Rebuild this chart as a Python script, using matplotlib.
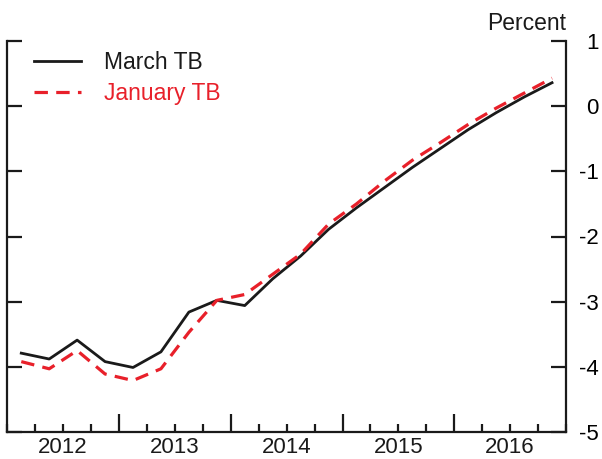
import matplotlib
matplotlib.use("Agg")
import matplotlib.pyplot as plt
import numpy as np

plt.rcParams['font.family'] = ['Liberation Sans', 'DejaVu Sans']

# Quarterly data, 2012Q1 .. 2016Q4
quarters = [2012 + i * 0.25 + 0.125 for i in range(20)]
march_tb = [-3.79, -3.88, -3.59, -3.92, -4.01, -3.77, -3.16, -2.98,
            -3.06, -2.65, -2.30, -1.89, -1.56, -1.25, -0.94, -0.65,
            -0.36, -0.10, 0.14, 0.36]
january_tb = [-3.92, -4.03, -3.75, -4.11, -4.21, -4.03, -3.47, -2.98,
              -2.89, -2.58, -2.27, -1.81, -1.50, -1.15, -0.83, -0.56,
              -0.28, -0.03, 0.20, 0.43]
years = [2012, 2013, 2014, 2015, 2016]
yticks = [1, 0, -1, -2, -3, -4, -5]

fig = plt.figure(figsize=(6.02, 4.59), dpi=100)
ax = fig.add_axes([7.3 / 602, 1 - 432 / 459, (566 - 7.3) / 602, (432 - 41) / 459])

black = '#1a1a1a'
red = '#e8202a'
ax.plot(quarters, march_tb, color=black, lw=2.0, label='March TB')
ax.plot(quarters, january_tb, color=red, lw=2.3, dashes=(4.2, 2.6), label='January TB')

ax.set_xlim(2012, 2017)
ax.set_ylim(-5, 1)

ax.spines['top'].set_visible(False)
for s in ['left', 'right', 'bottom']:
    ax.spines[s].set_linewidth(1.6)
    ax.spines[s].set_color(black)

# x ticks
ax.set_xticks([2013, 2014, 2015, 2016])
ax.set_xticklabels([])
ax.set_xticks([2012 + i * 0.25 for i in range(21)], minor=True)
ax.tick_params(axis='x', which='major', direction='in', length=13, width=1.6, color=black)
ax.tick_params(axis='x', which='minor', direction='in', length=5.5, width=1.6, color=black)
for y in years:
    ax.text(y + 0.5, -0.054, str(y), transform=ax.get_xaxis_transform(),
            ha='center', va='baseline', fontsize=16, color=black)

# y ticks
ax.set_yticks(yticks)
ax.set_yticklabels([str(v) for v in yticks])
ax.tick_params(axis='y', which='major', direction='in', length=10.5, width=1.6, color=black,
               left=True, right=True, labelleft=False, labelright=True,
               labelsize=16, pad=23.5)
for lab in ax.get_yticklabels():
    lab.set_horizontalalignment('right')

ax.text(1.0, 1.028, 'Percent', transform=ax.transAxes, ha='right', va='baseline',
        fontsize=16.5, color=black)

leg = ax.legend(loc='upper left', bbox_to_anchor=(0.048, 0.975), frameon=False,
                fontsize=16.5, handlelength=2.05, handletextpad=1.0,
                borderpad=0, borderaxespad=0, labelspacing=0.36)
leg.get_texts()[1].set_color(red)
leg.get_texts()[0].set_color(black)

fig.savefig('out.png', dpi=100)
